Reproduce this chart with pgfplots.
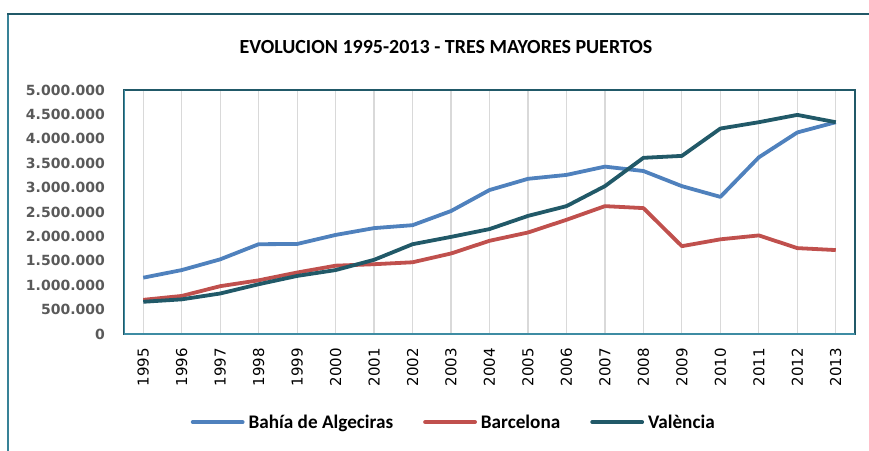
\documentclass[border=0pt]{standalone}
\usepackage{pgfplots}
\pgfplotsset{compat=1.18}
\usepackage{fontspec}
\setmainfont{Carlito}
\newfontfamily\verdana{DejaVu Sans}
\definecolor{cBlue}{HTML}{4F81BD}
\definecolor{cRed}{HTML}{C0504D}
\definecolor{cTeal}{HTML}{215968}
\definecolor{cFrame}{HTML}{215968}
\definecolor{cAxis}{HTML}{3E8CA3}
\definecolor{cGrid}{HTML}{D9D9D9}
\definecolor{cTick}{HTML}{595959}
\begin{document}
\begin{tikzpicture}[x=1pt,y=1pt]
\useasboundingbox (0,0) rectangle (869,450);
\draw[color=cAxis!80!cFrame, line width=2pt] (8,-3) -- (8,436);
\draw[color=cFrame, line width=2pt] (7,436) -- (872,436);
\node[font=\bfseries\fontsize{20}{24}\selectfont] at (446,403) {EVOLUCION 1995-2013 - TRES MAYORES PUERTOS};
\begin{axis}[
  at={(124pt,116pt)}, anchor=south west,
  scale only axis, width=731pt, height=244pt,
  xmin=1994.5, xmax=2013.5, ymin=0, ymax=5000000,
  xtick={1995,1996,1997,1998,1999,2000,2001,2002,2003,2004,2005,2006,2007,2008,2009,2010,2011,2012,2013},
  xticklabels={1995,1996,1997,1998,1999,2000,2001,2002,2003,2004,2005,2006,2007,2008,2009,2010,2011,2012,2013},
  ytick={0,500000,1000000,1500000,2000000,2500000,3000000,3500000,4000000,4500000,5000000},
  yticklabels={0,500.000,1.000.000,1.500.000,2.000.000,2.500.000,3.000.000,3.500.000,4.000.000,4.500.000,5.000.000},
  scaled y ticks=false,
  major tick length=0pt,
  xmajorgrids,
  grid style={draw=cGrid, line width=1.2pt},
  axis line style={draw=cFrame, line width=1.5pt},
  xticklabel style={rotate=90, anchor=east, inner sep=0pt, font=\verdana\fontsize{15}{18}\selectfont, text=black},
  xticklabel shift=14pt,
  yticklabel style={anchor=east, inner sep=0pt, font=\verdana\bfseries\fontsize{14}{16}\selectfont, text=cTick},
  yticklabel shift=19pt,
  legend columns=3,
  legend style={at={(0.4525,-0.361)}, anchor=center, draw=none, fill=none,
    font=\bfseries\fontsize{19.2}{22}\selectfont,
    nodes={inner xsep=4pt},
    /tikz/every even column/.append style={column sep=26pt}},
  legend image code/.code={\draw[#1, line width=3.8pt, line cap=round] (0pt,0pt) -- (50pt,0pt);},
  every axis plot/.append style={line width=3.8pt, line join=round, no markers},
]
\addplot[color=cBlue] coordinates {
(1995,1154000) (1996,1310000) (1997,1530000) (1998,1840000) (1999,1845000)
(2000,2030000) (2001,2170000) (2002,2230000) (2003,2520000) (2004,2950000)
(2005,3180000) (2006,3260000) (2007,3430000) (2008,3340000) (2009,3030000)
(2010,2810000) (2011,3620000) (2012,4130000) (2013,4340000)};
\addlegendentry{Bahía de Algeciras}
\addplot[color=cRed] coordinates {
(1995,700000) (1996,780000) (1997,980000) (1998,1100000) (1999,1260000)
(2000,1400000) (2001,1430000) (2002,1470000) (2003,1650000) (2004,1910000)
(2005,2080000) (2006,2340000) (2007,2620000) (2008,2580000) (2009,1800000)
(2010,1940000) (2011,2020000) (2012,1760000) (2013,1720000)};
\addlegendentry{Barcelona}
\addplot[color=cTeal] coordinates {
(1995,660000) (1996,710000) (1997,830000) (1998,1020000) (1999,1190000)
(2000,1310000) (2001,1520000) (2002,1840000) (2003,1990000) (2004,2150000)
(2005,2420000) (2006,2620000) (2007,3030000) (2008,3610000) (2009,3650000)
(2010,4210000) (2011,4340000) (2012,4490000) (2013,4340000)};
\addlegendentry{València}
\draw[color=cAxis, line width=1.5pt] (rel axis cs:0,1) -- (rel axis cs:0,0) -- (rel axis cs:1,0);
\end{axis}
\end{tikzpicture}
\end{document}
